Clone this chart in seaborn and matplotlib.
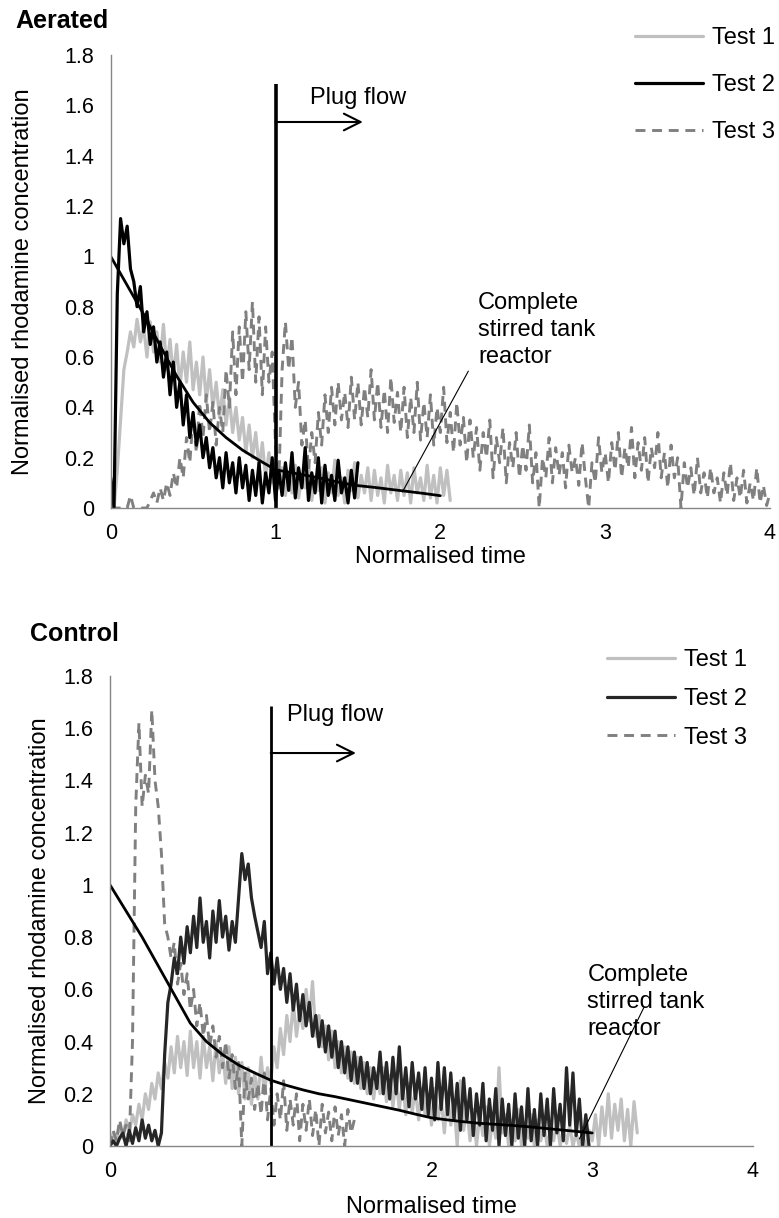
import numpy as np
import pandas as pd
import matplotlib
matplotlib.use("Agg")
import matplotlib.pyplot as plt
import seaborn as sns

# ---------------- data ----------------
STEP = 0.02  # sampling interval of the tracer records (normalised time)

# Aerated panel
aer_test1 = [0.0, 0.0, 0.15, 0.35, 0.55, 0.62, 0.70, 0.64, 0.75, 0.66, 0.72, 0.60, 0.74, 0.62, 0.70, 0.58,
             0.73, 0.55, 0.67, 0.52, 0.65, 0.48, 0.62, 0.50, 0.66, 0.47, 0.58, 0.45, 0.60, 0.42, 0.55, 0.40,
             0.50, 0.36, 0.47, 0.33, 0.44, 0.30, 0.40, 0.27, 0.36, 0.22, 0.33, 0.20, 0.30, 0.16, 0.26, 0.12,
             0.22, 0.10, 0.18, 0.08, 0.16, 0.05, 0.14, 0.06, 0.17, 0.04, 0.13, 0.08, 0.18, 0.03, 0.12, 0.07,
             0.16, 0.02, 0.14, 0.06, 0.19, 0.05, 0.12, 0.02, 0.15, 0.07, 0.18, 0.04, 0.13, 0.06, 0.16, 0.03,
             0.15, 0.05, 0.12, 0.02, 0.17, 0.06, 0.13, 0.03, 0.15, 0.05, 0.14, 0.02, 0.16, 0.06, 0.12, 0.03,
             0.17, 0.04, 0.13, 0.02, 0.16, 0.05, 0.15, 0.03]
aer_test2 = [0.12, 0.00, 0.85, 1.15, 1.05, 1.12, 0.95, 0.90, 0.80, 0.88, 0.70, 0.78, 0.65, 0.72, 0.58, 0.66,
             0.52, 0.62, 0.45, 0.58, 0.40, 0.50, 0.33, 0.45, 0.28, 0.38, 0.25, 0.33, 0.20, 0.28, 0.16, 0.24,
             0.12, 0.20, 0.08, 0.22, 0.10, 0.18, 0.06, 0.20, 0.08, 0.17, 0.03, 0.15, 0.05, 0.18, 0.02, 0.14,
             0.06, 0.20, 0.03, 0.15, 0.05, 0.18, 0.07, 0.22, 0.04, 0.16, 0.08, 0.24, 0.03, 0.14, 0.06, 0.20,
             0.02, 0.17, 0.05, 0.13, 0.03, 0.19, 0.06, 0.12, 0.02, 0.15, 0.04, 0.18]
aer_test3 = [0.0, 0.0, 0.0, 0.0, 0.0, 0.0, 0.05, 0.0, 0.0, 0.0, 0.0, 0.0, 0.03, 0.06, 0.02, 0.08,
             0.03, 0.10, 0.05, 0.14, 0.08, 0.20, 0.12, 0.28, 0.18, 0.36, 0.22, 0.42, 0.28, 0.45, 0.30, 0.42,
             0.25, 0.40, 0.30, 0.55, 0.40, 0.70, 0.45, 0.72, 0.50, 0.78, 0.55, 0.82, 0.50, 0.76, 0.45, 0.72,
             0.50, 0.62, 0.25, 0.10, 0.55, 0.74, 0.55, 0.68, 0.40, 0.50, 0.25, 0.35, 0.15, 0.30, 0.18, 0.38,
             0.25, 0.45, 0.30, 0.48, 0.33, 0.50, 0.35, 0.46, 0.32, 0.52, 0.35, 0.50, 0.33, 0.48, 0.36, 0.55,
             0.35, 0.50, 0.32, 0.47, 0.30, 0.52, 0.34, 0.46, 0.30, 0.48, 0.28, 0.44, 0.30, 0.50, 0.27, 0.42,
             0.28, 0.45, 0.25, 0.40, 0.30, 0.48, 0.26, 0.38, 0.22, 0.42, 0.25, 0.36, 0.18, 0.35, 0.20, 0.32,
             0.15, 0.30, 0.20, 0.35, 0.12, 0.28, 0.18, 0.32, 0.10, 0.26, 0.16, 0.30, 0.12, 0.25, 0.15, 0.33,
             0.10, 0.22, 0.00, 0.20, 0.12, 0.28, 0.10, 0.24, 0.13, 0.22, 0.08, 0.25, 0.14, 0.20, 0.09, 0.26,
             0.12, 0.00, 0.18, 0.10, 0.28, 0.14, 0.22, 0.10, 0.26, 0.15, 0.30, 0.12, 0.24, 0.16, 0.32, 0.12,
             0.26, 0.15, 0.28, 0.10, 0.24, 0.16, 0.30, 0.12, 0.22, 0.08, 0.25, 0.12, 0.20, 0.00, 0.18, 0.08,
             0.16, 0.05, 0.20, 0.06, 0.14, 0.04, 0.16, 0.06, 0.12, 0.02, 0.14, 0.05, 0.18, 0.03, 0.12, 0.04,
             0.15, 0.02, 0.10, 0.03, 0.16, 0.02, 0.09, 0.01, 0.06]
aer_cstr_t = [0.0, 0.1, 0.2, 0.3, 0.4, 0.5, 0.6, 0.7, 0.8, 0.9, 1.0,
              1.1, 1.2, 1.3, 1.4, 1.5, 1.6, 1.7, 1.8, 1.9, 2.0]
aer_cstr_c = [1.0, 0.885, 0.77, 0.645, 0.525, 0.42, 0.34, 0.28, 0.23, 0.19, 0.152,
              0.14, 0.128, 0.115, 0.10, 0.089, 0.082, 0.074, 0.066, 0.058, 0.049]

# Control panel
con_test1 = [0.00, 0.05, 0.02, 0.08, 0.03, 0.10, 0.05, 0.12, 0.08, 0.16, 0.10, 0.20, 0.14, 0.24, 0.18, 0.28,
             0.22, 0.32, 0.26, 0.38, 0.28, 0.42, 0.30, 0.40, 0.27, 0.44, 0.30, 0.40, 0.26, 0.42, 0.30, 0.38,
             0.25, 0.40, 0.28, 0.36, 0.24, 0.38, 0.22, 0.34, 0.20, 0.32, 0.18, 0.30, 0.16, 0.28, 0.18, 0.34,
             0.20, 0.30, 0.24, 0.38, 0.30, 0.45, 0.35, 0.50, 0.40, 0.55, 0.42, 0.52, 0.45, 0.60, 0.48, 0.63,
             0.42, 0.50, 0.38, 0.46, 0.33, 0.44, 0.30, 0.40, 0.28, 0.38, 0.26, 0.36, 0.24, 0.34, 0.22, 0.32,
             0.20, 0.30, 0.18, 0.28, 0.20, 0.30, 0.17, 0.27, 0.15, 0.26, 0.14, 0.25, 0.12, 0.24, 0.13, 0.22,
             0.10, 0.22, 0.12, 0.20, 0.08, 0.22, 0.10, 0.18, 0.05, 0.20, 0.08, 0.16, 0.00, 0.25, 0.06, 0.15,
             0.02, 0.14, 0.00, 0.12, 0.04, 0.15, 0.00, 0.10, 0.03, 0.30, 0.05, 0.12, 0.00, 0.10, 0.02, 0.14,
             0.00, 0.08, 0.03, 0.12, 0.00, 0.10, 0.02, 0.08, 0.00, 0.06, 0.02, 0.10, 0.00, 0.06, 0.01, 0.08,
             0.00, 0.05, 0.00, 0.04, 0.00, 0.06, 0.02, 0.12, 0.00, 0.15, 0.04, 0.20, 0.03, 0.16, 0.06, 0.18,
             0.02, 0.14, 0.00, 0.17, 0.05]
con_test2 = [0.00, 0.02, 0.00, 0.03, 0.05, 0.00, 0.06, 0.01, 0.07, 0.02, 0.10, 0.03, 0.08, 0.02, 0.06, 0.00,
             0.05, 0.35, 0.55, 0.62, 0.72, 0.66, 0.80, 0.70, 0.84, 0.74, 0.88, 0.76, 0.95, 0.78, 0.86, 0.72,
             0.90, 0.78, 0.94, 0.80, 0.88, 0.75, 0.86, 0.78, 0.95, 1.12, 1.02, 1.08, 0.95, 0.88, 0.82, 0.76,
             0.86, 0.66, 0.74, 0.62, 0.72, 0.60, 0.68, 0.55, 0.66, 0.52, 0.62, 0.48, 0.58, 0.46, 0.55, 0.42,
             0.50, 0.38, 0.48, 0.36, 0.46, 0.34, 0.44, 0.30, 0.40, 0.28, 0.38, 0.25, 0.36, 0.24, 0.34, 0.22,
             0.32, 0.20, 0.30, 0.22, 0.36, 0.20, 0.32, 0.18, 0.34, 0.20, 0.38, 0.18, 0.30, 0.15, 0.32, 0.18,
             0.28, 0.14, 0.30, 0.12, 0.26, 0.10, 0.32, 0.14, 0.30, 0.12, 0.28, 0.10, 0.24, 0.06, 0.26, 0.10,
             0.22, 0.04, 0.20, 0.08, 0.24, 0.02, 0.18, 0.06, 0.22, 0.00, 0.18, 0.04, 0.16, 0.00, 0.20, 0.03,
             0.15, 0.00, 0.22, 0.02, 0.14, 0.00, 0.20, 0.04, 0.18, 0.00, 0.22, 0.05, 0.16, 0.02, 0.30, 0.08,
             0.28, 0.04, 0.18, 0.00, 0.12, 0.00]
con_test3 = [0.00, 0.06, 0.02, 0.10, 0.04, 0.08, 0.02, 0.40, 1.30, 1.62, 1.30, 1.42, 1.35, 1.67, 1.40, 1.30,
             1.12, 0.85, 0.80, 0.72, 0.78, 0.62, 0.70, 0.58, 0.66, 0.52, 0.60, 0.46, 0.55, 0.42, 0.50, 0.38,
             0.46, 0.34, 0.42, 0.30, 0.40, 0.26, 0.35, 0.22, 0.32, 0.00, 0.28, 0.18, 0.26, 0.14, 0.24, 0.12,
             0.28, 0.10, 0.22, 0.08, 0.20, 0.10, 0.25, 0.06, 0.18, 0.08, 0.20, 0.02, 0.16, 0.06, 0.18, 0.04,
             0.14, 0.00, 0.16, 0.05, 0.13, 0.02, 0.15, 0.04, 0.12, 0.00, 0.14, 0.05, 0.10]
con_cstr_t = [0.0, 0.1, 0.2, 0.3, 0.4, 0.5, 0.6, 0.7, 0.8, 0.9, 1.0, 1.1, 1.2, 1.3, 1.4, 1.5,
              1.6, 1.7, 1.8, 1.9, 2.0, 2.1, 2.2, 2.3, 2.4, 2.5, 2.6, 2.7, 2.8, 2.9, 3.0]
con_cstr_c = [1.0, 0.90, 0.80, 0.69, 0.58, 0.47, 0.40, 0.35, 0.31, 0.28, 0.252, 0.232, 0.215, 0.20, 0.189,
              0.176, 0.163, 0.150, 0.137, 0.122, 0.108, 0.100, 0.093, 0.087, 0.083, 0.079, 0.074, 0.068,
              0.062, 0.056, 0.050]

series_labels = ["Test 1", "Test 2", "Test 3"]
x_ticks = [0, 1, 2, 3, 4]
x_tick_labels = ["0", "1", "2", "3", "4"]
y_ticks = [0, 0.2, 0.4, 0.6, 0.8, 1.0, 1.2, 1.4, 1.6, 1.8]
y_tick_labels = ["0", "0.2", "0.4", "0.6", "0.8", "1", "1.2", "1.4", "1.6", "1.8"]
plug_flow_t = 1.0

# ---------------- style ----------------
sns.set_theme(style="white")
plt.rcParams["font.family"] = ["Liberation Sans", "DejaVu Sans"]
plt.rcParams["text.color"] = "black"
plt.rcParams["axes.labelcolor"] = "black"
plt.rcParams["xtick.labelcolor"] = "black"
plt.rcParams["ytick.labelcolor"] = "black"

C1, C3 = "#c0c0c0", "#808080"
SPINE = "#868686"


def frame(values):
    return pd.DataFrame({"t": STEP * np.arange(len(values)), "c": values})


def panel(ax, t1, t2, t3, c2, cstr_t, cstr_c, plug_lw):
    d1, d2, d3 = frame(t1), frame(t2), frame(t3)
    kw = dict(x="t", y="c", ax=ax, estimator=None, sort=False, errorbar=None)
    sns.lineplot(data=d1, color=C1, lw=2.3, label=series_labels[0], **kw)
    sns.lineplot(data=d3, color=C3, lw=2.1, linestyle=(0, (3.4, 2.3)), label=series_labels[2], **kw)
    sns.lineplot(data=d2, color=c2, lw=2.3, label=series_labels[1], **kw)
    sns.lineplot(x=cstr_t, y=cstr_c, ax=ax, color="black", lw=2.0)
    ax.plot([plug_flow_t, plug_flow_t], [0, 1.685], color="black", lw=plug_lw, solid_capstyle="butt")
    ax.set_xlim(0, 4)
    ax.set_ylim(0, 1.8)
    ax.set_xticks(x_ticks)
    ax.set_xticklabels(x_tick_labels)
    ax.set_yticks(y_ticks)
    ax.set_yticklabels(y_tick_labels)
    for s in ["top", "right"]:
        ax.spines[s].set_visible(False)
    for s in ["left", "bottom"]:
        ax.spines[s].set_color(SPINE)
        ax.spines[s].set_linewidth(1.0)
    ax.tick_params(axis="both", which="major", direction="out", length=4, width=1,
                   color=SPINE, labelsize=15.5, labelcolor="black")
    ax.tick_params(axis="y", pad=8)
    ax.tick_params(axis="x", pad=7)
    ax.set_xlabel("Normalised time", fontsize=17)
    ax.set_ylabel("Normalised rhodamine concentration", fontsize=17)
    h, l = ax.get_legend_handles_labels()
    order = [l.index(s) for s in series_labels]
    return [h[i] for i in order], [l[i] for i in order]


def plug_arrow(ax, y, x_end):
    ax.annotate("", xy=(x_end, y), xytext=(plug_flow_t, y),
                arrowprops=dict(arrowstyle="->", color="black", lw=1.5, mutation_scale=30,
                                shrinkA=0, shrinkB=0))


fig = plt.figure(figsize=(7.79, 12.18), dpi=100)
ax1 = fig.add_axes([0.1421, 0.5829, 0.8463, 0.3719])
ax2 = fig.add_axes([0.1412, 0.0591, 0.8254, 0.3859])

# Aerated
h, l = panel(ax1, aer_test1, aer_test2, aer_test3, "#000000", aer_cstr_t, aer_cstr_c, 2.6)
ax1.legend(h, l, loc="upper left", bbox_to_anchor=(0.815, 0.978), bbox_transform=fig.transFigure,
           frameon=False, borderpad=0, borderaxespad=0, handlelength=2.9, handletextpad=0.35,
           labelspacing=1.06, fontsize=17)
plug_arrow(ax1, 1.534, 1.53)
ax1.text(1.21, 1.63, "Plug flow", fontsize=17, ha="left", va="center")
ax1.text(2.23, 0.707, "Complete\nstirred tank\nreactor", fontsize=17, ha="left", va="center",
         linespacing=1.28)
ax1.plot([2.17, 1.77], [0.544, 0.064], color="black", lw=0.8)
ax1.yaxis.set_label_coords(-0.117, 0.5)
ax1.xaxis.set_label_coords(0.5, -0.084)
fig.text(15 / 779, 1 - 21 / 1218, "Aerated", fontsize=18, fontweight="bold", ha="left", va="center")

# Control
h, l = panel(ax2, con_test1, con_test2, con_test3, "#262626", con_cstr_t, con_cstr_c, 2.0)
ax2.legend(h, l, loc="upper left", bbox_to_anchor=(0.779, 0.467), bbox_transform=fig.transFigure,
           frameon=False, borderpad=0, borderaxespad=0, handlelength=2.9, handletextpad=0.35,
           labelspacing=0.71, fontsize=17)
plug_arrow(ax2, 1.505, 1.53)
ax2.text(1.10, 1.65, "Plug flow", fontsize=17, ha="left", va="center")
ax2.text(2.97, 0.551, "Complete\nstirred tank\nreactor", fontsize=17, ha="left", va="center",
         linespacing=1.28)
ax2.plot([3.32, 2.92], [0.529, 0.027], color="black", lw=0.8)
ax2.yaxis.set_label_coords(-0.092, 0.5)
ax2.xaxis.set_label_coords(0.5, -0.106)
fig.text(30 / 779, 1 - 634 / 1218, "Control", fontsize=18, fontweight="bold", ha="left", va="center")

fig.savefig("out.png", dpi=100)
